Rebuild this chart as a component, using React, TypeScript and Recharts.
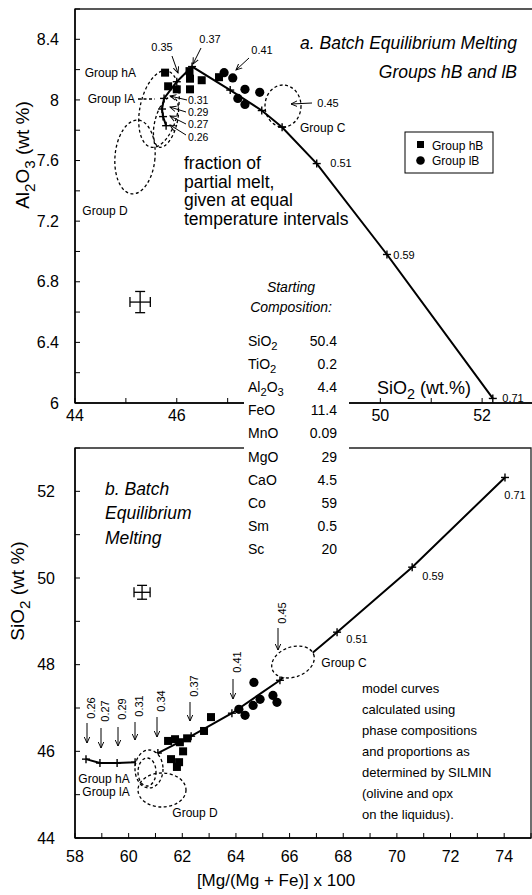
import React from "react";
import { ScatterChart, Scatter, XAxis, YAxis, ErrorBar, ReferenceArea } from "recharts";

const FONT = '"Liberation Sans", Arial, Helvetica, sans-serif';

// ---- panel a: Al2O3 vs SiO2 ----
const topXTicks = [44, 45, 46, 47, 48, 49, 50, 51, 52, 53];
const topXLabels = [44, 46, 50, 52]; // 48 sits under the composition table
const topYTicks = [6, 6.2, 6.4, 6.6, 6.8, 7, 7.2, 7.4, 7.6, 7.8, 8, 8.2, 8.4, 8.6];
const topYLabels = [6, 6.4, 6.8, 7.2, 7.6, 8, 8.4];

// batch melting model curve (SiO2, Al2O3), F = 0.26 ... 0.71
const topCurve: [number, number][] = [
  [45.79, 7.83], [45.73, 7.89], [45.71, 7.94], [45.75, 8.01], [46.0, 8.12],
  [46.3, 8.22], [47.05, 8.065], [47.67, 7.93], [48.07, 7.82], [48.75, 7.58],
  [50.13, 6.98], [52.21, 6.03],
];
const topGroupHB: [number, number][] = [
  [45.77, 8.18], [45.83, 8.09], [46.0, 8.07], [46.25, 8.19], [46.26, 8.14],
  [46.26, 8.07], [46.49, 8.13], [46.83, 8.15],
];
const topGroupLB: [number, number][] = [
  [46.93, 8.18], [47.1, 8.145], [47.34, 8.07], [47.2, 8.01], [47.34, 7.97], [47.63, 8.05],
];
const topError = [{ x: 45.28, y: 6.666, ex: 0.2, ey: 0.07 }];

// ---- panel b: SiO2 vs Mg# ----
const botXTicks = [58, 59, 60, 61, 62, 63, 64, 65, 66, 67, 68, 69, 70, 71, 72, 73, 74, 75];
const botXLabels = [58, 60, 62, 64, 66, 68, 70, 72, 74];
const botYTicks = [44, 45, 46, 47, 48, 49, 50, 51, 52, 53];
const botYLabels = [44, 46, 48, 50, 52];

const botCurve: [number, number][] = [
  [58.41, 45.82], [58.93, 45.73], [59.57, 45.73], [60.24, 45.75], [61.09, 45.96],
  [62.33, 46.35], [63.85, 46.88], [65.64, 47.64], [67.77, 48.75], [70.57, 50.25],
  [74.03, 52.32],
];
const botGroupHB: [number, number][] = [
  [61.47, 46.24], [61.73, 46.28], [61.91, 46.21], [62.18, 46.3], [62.03, 46.0],
  [61.58, 45.82], [61.88, 45.75], [61.8, 45.64], [62.81, 46.47], [63.07, 46.79],
];
const botGroupLB: [number, number][] = [
  [64.11, 46.97], [64.34, 46.83], [64.67, 47.59], [64.64, 47.06], [64.9, 47.2],
  [65.38, 47.29], [65.53, 47.13],
];
const botError = [{ x: 60.5, y: 49.67, ex: 0.3, ey: 0.16 }];

// starting composition table
const compOxides = ["SiO2", "TiO2", "Al2O3", "FeO", "MnO", "MgO", "CaO", "Co", "Sm", "Sc"];
const compValues = ["50.4", "0.2", "4.4", "11.4", "0.09", "29", "4.5", "59", "0.5", "20"];

const pts = (a: [number, number][]) => a.map(([x, y]) => ({ x, y }));
const fmt = (labels: number[]) => (v: number) =>
  labels.some((l) => Math.abs(l - v) < 1e-6) ? String(v) : "";

const tickStyle = { fontSize: 16, fill: "#000", fontFamily: FONT };
const axisLine = { stroke: "#000", strokeWidth: 1.5 };

const Plus = (p: any) => (
  <g stroke="#000" strokeWidth={1.4}>
    <line x1={p.cx - 4} y1={p.cy} x2={p.cx + 4} y2={p.cy} />
    <line x1={p.cx} y1={p.cy - 4} x2={p.cx} y2={p.cy + 4} />
  </g>
);
const Square = (p: any) => <rect x={p.cx - 4} y={p.cy - 4} width={8} height={8} fill="#000" />;
const Dot = (p: any) => <circle cx={p.cx} cy={p.cy} r={4.6} fill="#000" />;
const Nothing = () => <g />;

function Chem({ text, x, y, size, anchor = "start", rotate, italic }: any) {
  const shift = size * 0.3;
  const parts = text.split(/(\d+)/).filter((p: string) => p !== "");
  let low = false;
  const spans = parts.map((p: string, i: number) => {
    const isSub = /^\d+$/.test(p);
    const dy = isSub && !low ? shift : !isSub && low ? -shift : 0;
    low = isSub;
    return (
      <tspan key={i} dy={dy} fontSize={isSub ? size * 0.8 : size}>
        {p}
      </tspan>
    );
  });
  return (
    <text
      x={x}
      y={y}
      fontSize={size}
      textAnchor={anchor}
      fontStyle={italic ? "italic" : undefined}
      transform={rotate ? `rotate(${rotate} ${x} ${y})` : undefined}
    >
      {spans}
    </text>
  );
}

const Arrow = ({ x1, y1, x2, y2 }: any) => (
  <line x1={x1} y1={y1} x2={x2} y2={y2} stroke="#000" strokeWidth={1} markerEnd="url(#ah)" />
);

const dash = { fill: "none", stroke: "#000", strokeWidth: 1.3, strokeDasharray: "3 2.5" };

const Overlay = () => (
  <svg
    width={532}
    height={895}
    style={{ position: "absolute", left: 0, top: 0, pointerEvents: "none", fontFamily: FONT }}
  >
    <defs>
      <marker id="ah" viewBox="0 0 8 8" refX="7" refY="4" markerWidth="7" markerHeight="7" orient="auto">
        <path d="M0,0.8 L7,4 L0,7.2" fill="none" stroke="#000" strokeWidth={1.1} />
      </marker>
    </defs>

    {/* ---- panel a annotations ---- */}
    <text x={517} y={49} fontSize={17.5} fontStyle="italic" textAnchor="end">a. Batch Equilibrium Melting</text>
    <text x={517} y={78} fontSize={17.5} fontStyle="italic" textAnchor="end">Groups hB and lB</text>

    <rect x={405} y={132} width={88} height={41} fill="#fff" stroke="#000" strokeWidth={1} />
    <rect x={417} y={141} width={7} height={7} fill="#000" />
    <circle cx={420.5} cy={160.5} r={4.3} fill="#000" />
    <text x={432} y={149.5} fontSize={12}>Group hB</text>
    <text x={432} y={165} fontSize={12}>Group lB</text>

    <g fontSize={17.5}>
      <text x={184} y={169}>fraction of</text>
      <text x={184} y={187.5}>partial melt,</text>
      <text x={184} y={206}>given at equal</text>
      <text x={184} y={224.5}>temperature intervals</text>
    </g>

    <ellipse cx={159} cy={109} rx={19} ry={39} transform="rotate(12 159 109)" style={dash} />
    <ellipse cx={166} cy={122} rx={11} ry={26} transform="rotate(15 166 122)" style={dash} />
    <line x1={138} y1={99} x2={155} y2={99} style={dash} />
    <ellipse cx={135} cy={157} rx={20} ry={37} transform="rotate(5 135 157)" style={dash} />
    <ellipse cx={283} cy={106} rx={18} ry={21} style={dash} />

    <g fontSize={12}>
      <text x={136} y={77} textAnchor="end">Group hA</text>
      <text x={135} y={103} textAnchor="end">Group lA</text>
      <text x={105} y={215} textAnchor="middle">Group D</text>
      <text x={300} y={132}>Group C</text>
    </g>

    <g fontSize={11}>
      <text x={162} y={51} textAnchor="middle">0.35</text>
      <Arrow x1={172} y1={56} x2={178} y2={73} />
      <text x={210} y={43} textAnchor="middle">0.37</text>
      <Arrow x1={201} y1={48} x2={193} y2={64} />
      <text x={262} y={54} textAnchor="middle">0.41</text>
      <Arrow x1={249} y1={58} x2={236} y2={70} />
      <text x={328} y={107} textAnchor="middle">0.45</text>
      <Arrow x1={312} y1={103} x2={291} y2={104} />
    </g>
    <g fontSize={10.5}>
      <text x={188} y={104}>0.31</text>
      <Arrow x1={187} y1={100} x2={170} y2={96} />
      <text x={188} y={116}>0.29</text>
      <Arrow x1={186} y1={112} x2={170} y2={107} />
      <text x={188} y={128}>0.27</text>
      <Arrow x1={186} y1={124} x2={170} y2={116} />
      <text x={188} y={141}>0.26</text>
      <Arrow x1={186} y1={135} x2={170} y2={125} />
    </g>
    <g fontSize={11}>
      <text x={341} y={167} textAnchor="middle">0.51</text>
      <text x={404} y={259} textAnchor="middle">0.59</text>
      <text x={513} y={402} textAnchor="middle">0.71</text>
    </g>

    <Chem text="SiO2 (wt.%)" x={424} y={394} size={18} anchor="middle" />
    <Chem text="Al2O3 (wt %)" x={29} y={155} size={19} anchor="middle" rotate={-90} />

    {/* starting composition table, sits over both axes */}
    <rect x={244} y={392} width={105} height={63} fill="#fff" />
    <text x={291} y={292} fontSize={14} fontStyle="italic" textAnchor="middle">Starting</text>
    <text x={291} y={312} fontSize={14} fontStyle="italic" textAnchor="middle">Composition:</text>
    {compOxides.map((o, i) => (
      <g key={o}>
        <Chem text={o} x={248} y={346 + i * 23.1} size={14} />
        <text x={337} y={346 + i * 23.1} fontSize={14} textAnchor="end">{compValues[i]}</text>
      </g>
    ))}

    {/* ---- panel b annotations ---- */}
    <g fontSize={17.5} fontStyle="italic">
      <text x={105} y={495}>b. Batch</text>
      <text x={105} y={519}>Equilibrium</text>
      <text x={105} y={544}>Melting</text>
    </g>

    <g fontSize={13}>
      {[
        "model curves",
        "calculated using",
        "phase compositions",
        "and proportions as",
        "determined by SILMIN",
        "(olivine and opx",
        "on the liquidus).",
      ].map((t, i) => (
        <text key={t} x={362} y={693 + i * 21}>{t}</text>
      ))}
    </g>

    <ellipse cx={149} cy={769} rx={14} ry={19} fill="#fff" stroke="#000" strokeWidth={1.3} strokeDasharray="3 2.5" />
    <ellipse cx={147} cy={772} rx={9} ry={14} style={dash} />
    <ellipse cx={162} cy={790} rx={24} ry={17} style={dash} />
    <ellipse cx={293} cy={662} rx={22} ry={15} transform="rotate(-20 293 662)" fill="#fff" stroke="#000" strokeWidth={1.3} strokeDasharray="3 2.5" />

    <g fontSize={12}>
      <text x={104} y={783} textAnchor="middle">Group hA</text>
      <text x={106} y={796} textAnchor="middle">Group lA</text>
      <text x={195} y={817} textAnchor="middle">Group D</text>
      <text x={344} y={667} textAnchor="middle">Group C</text>
    </g>

    <g fontSize={11}>
      {[
        { t: "0.26", x: 90, ty: 708, ay1: 723, ay2: 743 },
        { t: "0.27", x: 104, ty: 711, ay1: 728, ay2: 748 },
        { t: "0.29", x: 121, ty: 709, ay1: 727, ay2: 746 },
        { t: "0.31", x: 138, ty: 706, ay1: 722, ay2: 740 },
        { t: "0.34", x: 160, ty: 701, ay1: 717, ay2: 737 },
        { t: "0.37", x: 193, ty: 686, ay1: 702, ay2: 721 },
        { t: "0.41", x: 236, ty: 662, ay1: 679, ay2: 699 },
        { t: "0.45", x: 281, ty: 613, ay1: 628, ay2: 650 },
      ].map((d) => (
        <g key={d.t}>
          <text
            x={d.x + 1}
            y={d.ty}
            textAnchor="middle"
            dominantBaseline="central"
            transform={`rotate(-90 ${d.x + 1} ${d.ty})`}
          >
            {d.t}
          </text>
          <Arrow x1={d.x - 3} y1={d.ay1} x2={d.x - 3} y2={d.ay2} />
        </g>
      ))}
      <text x={357} y={643} textAnchor="middle">0.51</text>
      <text x={433} y={580} textAnchor="middle">0.59</text>
      <text x={515} y={499} textAnchor="middle">0.71</text>
    </g>

    <Chem text="SiO2 (wt %)" x={24} y={591} size={19} anchor="middle" rotate={-90} />
    <text x={276} y={886} fontSize={17} textAnchor="middle">[Mg/(Mg + Fe)] x 100</text>
  </svg>
);

export default function App() {
  return (
    <div
      style={{
        position: "absolute",
        left: 0,
        top: 0,
        width: 532,
        height: 895,
        overflow: "hidden",
        background: "#fff",
        fontFamily: FONT,
      }}
    >
      <div style={{ position: "absolute", left: 0, top: 0 }}>
        <ScatterChart width={540} height={440} margin={{ top: 9, right: 7, bottom: 7, left: 15 }}>
          <XAxis
            type="number"
            dataKey="x"
            domain={[44, 53]}
            ticks={topXTicks}
            interval={0}
            tickFormatter={fmt(topXLabels)}
            allowDataOverflow
            height={30}
            tickSize={-5}
            tickMargin={12}
            axisLine={axisLine}
            tickLine={{ stroke: "#000" }}
            tick={tickStyle}
          />
          <YAxis
            type="number"
            dataKey="y"
            domain={[6, 8.6]}
            ticks={topYTicks}
            interval={0}
            tickFormatter={fmt(topYLabels)}
            allowDataOverflow
            width={60}
            tickSize={-5}
            tickMargin={21}
            axisLine={axisLine}
            tickLine={{ stroke: "#000" }}
            tick={tickStyle}
          />
          <ReferenceArea x1={44} x2={53} y1={6} y2={8.6} fill="none" fillOpacity={0} stroke="#222" strokeWidth={1.3} />
          <Scatter
            data={pts(topCurve)}
            line={{ stroke: "#000", strokeWidth: 2 }}
            shape={Plus}
            isAnimationActive={false}
          />
          <Scatter data={pts(topGroupHB)} shape={Square} isAnimationActive={false} />
          <Scatter data={pts(topGroupLB)} shape={Dot} isAnimationActive={false} />
          <Scatter data={topError} shape={Nothing} isAnimationActive={false}>
            <ErrorBar dataKey="ex" direction="x" width={5} stroke="#000" strokeWidth={1.3} />
            <ErrorBar dataKey="ey" direction="y" width={5} stroke="#000" strokeWidth={1.3} />
          </Scatter>
        </ScatterChart>
      </div>

      <div style={{ position: "absolute", left: 0, top: 440 }}>
        <ScatterChart width={540} height={455} margin={{ top: 8, right: 9, bottom: 7, left: 15 }}>
          <XAxis
            type="number"
            dataKey="x"
            domain={[58, 75]}
            ticks={botXTicks}
            interval={0}
            tickFormatter={fmt(botXLabels)}
            allowDataOverflow
            height={50}
            tickSize={-5}
            tickMargin={18}
            axisLine={axisLine}
            tickLine={{ stroke: "#000" }}
            tick={tickStyle}
          />
          <YAxis
            type="number"
            dataKey="y"
            domain={[44, 53]}
            ticks={botYTicks}
            interval={0}
            tickFormatter={fmt(botYLabels)}
            allowDataOverflow
            width={60}
            tickSize={-5}
            tickMargin={25}
            axisLine={axisLine}
            tickLine={{ stroke: "#000" }}
            tick={tickStyle}
          />
          <ReferenceArea x1={58} x2={75} y1={44} y2={53} fill="none" fillOpacity={0} stroke="#222" strokeWidth={1.3} />
          <Scatter
            data={pts(botCurve)}
            line={{ stroke: "#000", strokeWidth: 2 }}
            shape={Plus}
            isAnimationActive={false}
          />
          <Scatter data={pts(botGroupHB)} shape={Square} isAnimationActive={false} />
          <Scatter data={pts(botGroupLB)} shape={Dot} isAnimationActive={false} />
          <Scatter data={botError} shape={Nothing} isAnimationActive={false}>
            <ErrorBar dataKey="ex" direction="x" width={5} stroke="#000" strokeWidth={1.3} />
            <ErrorBar dataKey="ey" direction="y" width={5} stroke="#000" strokeWidth={1.3} />
          </Scatter>
        </ScatterChart>
      </div>

      <Overlay />
    </div>
  );
}
